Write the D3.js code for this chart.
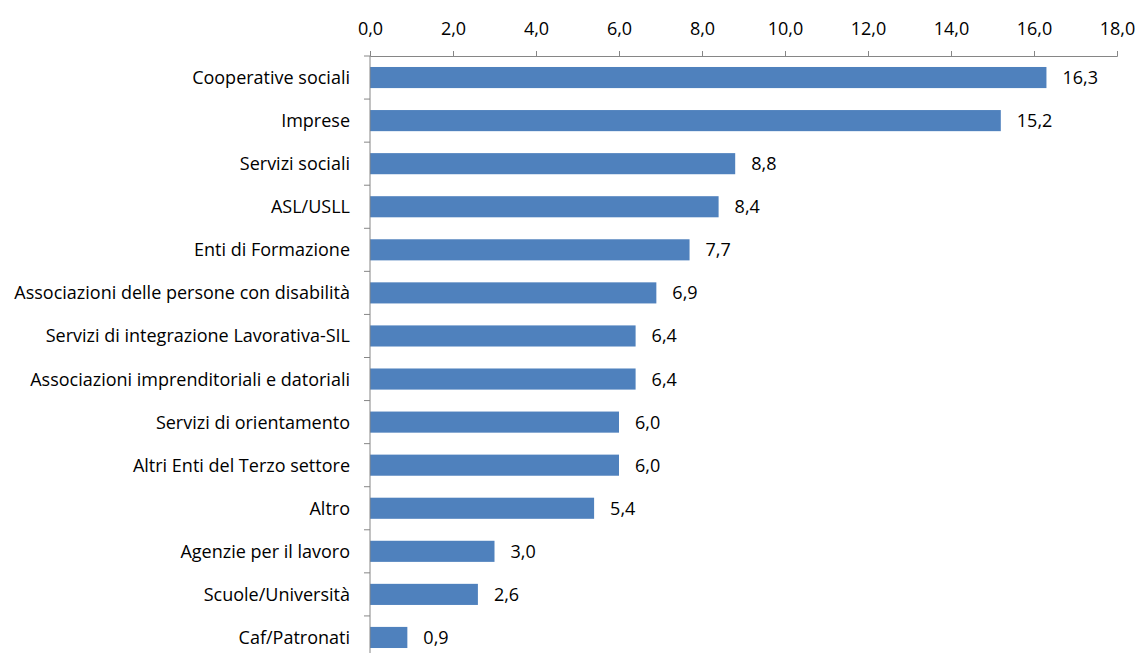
<!DOCTYPE html>
<html>
<head>
<meta charset="utf-8">
<script src="https://cdn.jsdelivr.net/npm/d3@7"></script>
<style>
  body { margin: 0; background: #fff; }
  svg text { font-family: "Open Sans", Lato, sans-serif; fill: #000; }
</style>
</head>
<body>
<script>
var w = 1139;
var h = 653;

// Categories, top to bottom
var categories = [
    "Cooperative sociali",
    "Imprese",
    "Servizi sociali",
    "ASL/USLL",
    "Enti di Formazione",
    "Associazioni delle persone con disabilità",
    "Servizi di integrazione Lavorativa-SIL",
    "Associazioni imprenditoriali e datoriali",
    "Servizi di orientamento",
    "Altri Enti del Terzo settore",
    "Altro",
    "Agenzie per il lavoro",
    "Scuole/Università",
    "Caf/Patronati"
];

// Values (percent)
var values = [16.3, 15.2, 8.8, 8.4, 7.7, 6.9, 6.4, 6.4, 6.0, 6.0, 5.4, 3.0, 2.6, 0.9];

// Axis ticks
var tickValues = [0, 2, 4, 6, 8, 10, 12, 14, 16, 18];

var itLocale = d3.formatLocale({decimal: ",", thousands: ".", grouping: [3], currency: ["€", ""]});
var fmt = itLocale.format(".1f");

var padLeft = 370, padRight = 1117, padTop = 56, padBottom = 659;
var fontSize = "18px";

var svg = d3.select("body")
    .append("svg")
    .attr("width", w)
    .attr("height", h);

var x = d3.scaleLinear()
    .domain([0, 18])
    .range([padLeft, padRight]);

var y = d3.scaleBand()
    .domain(categories)
    .range([padTop, padBottom])
    .paddingInner(0.51)
    .paddingOuter(0.255);

// Bars
svg.selectAll("rect.bar")
    .data(values)
    .enter()
    .append("rect")
    .attr("class", "bar")
    .attr("x", x(0))
    .attr("y", function(d, i) { return y(categories[i]); })
    .attr("width", function(d) { return x(d) - x(0); })
    .attr("height", y.bandwidth())
    .attr("fill", "#4f81bd");

// Value labels
svg.selectAll("text.val")
    .data(values)
    .enter()
    .append("text")
    .attr("class", "val")
    .attr("x", function(d) { return x(d) + 16; })
    .attr("y", function(d, i) { return y(categories[i]) + y.bandwidth() / 2; })
    .attr("dy", "0.36em")
    .style("font-size", fontSize)
    .text(function(d) { return fmt(d); });

// Top axis
var xAxis = svg.append("g")
    .attr("transform", "translate(0," + padTop + ")")
    .call(d3.axisTop(x).tickValues(tickValues).tickSize(5).tickSizeOuter(5).tickFormat(fmt));
xAxis.select(".domain").attr("stroke", "#868686");
xAxis.selectAll(".tick line").attr("stroke", "#868686");
xAxis.selectAll(".tick text")
    .attr("y", -21)
    .style("font-size", fontSize)
    .style("font-family", "'Open Sans', sans-serif");

// Left axis: ticks at band boundaries
var yAxis = svg.append("g")
    .attr("transform", "translate(" + padLeft + ",0)");
yAxis.append("line")
    .attr("x1", 0).attr("x2", 0)
    .attr("y1", padTop).attr("y2", padBottom)
    .attr("stroke", "#868686");
var step = y.step();
yAxis.selectAll("line.tk")
    .data(d3.range(categories.length + 1))
    .enter()
    .append("line")
    .attr("class", "tk")
    .attr("x1", -6).attr("x2", 0)
    .attr("y1", function(i) { return padTop + i * step; })
    .attr("y2", function(i) { return padTop + i * step; })
    .attr("stroke", "#868686");

// Category labels
svg.selectAll("text.cat")
    .data(categories)
    .enter()
    .append("text")
    .attr("class", "cat")
    .attr("x", padLeft - 20)
    .attr("y", function(d) { return y(d) + y.bandwidth() / 2; })
    .attr("dy", "0.36em")
    .attr("text-anchor", "end")
    .style("font-size", fontSize)
    .text(function(d) { return d; });
</script>
</body>
</html>
